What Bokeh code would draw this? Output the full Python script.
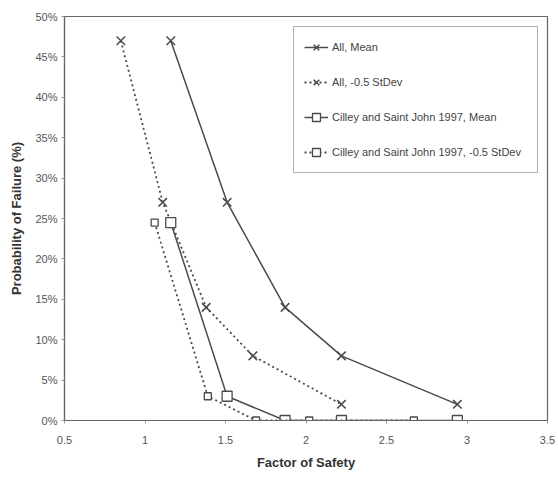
from bokeh.plotting import figure
from bokeh.models import Range1d, Legend, LegendItem, FixedTicker, CustomJSTickFormatter
from bokeh.embed import file_html
from bokeh.resources import INLINE

# Data
fos_all_mean = [1.16, 1.51, 1.87, 2.22, 2.94]
pf_all_mean = [47, 27, 14, 8, 2]
fos_all_sd = [0.85, 1.11, 1.38, 1.67, 2.22]
pf_all_sd = [47, 27, 14, 8, 2]
fos_c_mean = [1.16, 1.51, 1.87, 2.22, 2.94]
pf_c_mean = [24.5, 3, 0, 0, 0]
fos_c_sd = [1.06, 1.39, 1.69, 2.02, 2.67]
pf_c_sd = [24.5, 3, 0, 0, 0]
x_ticks = [0.5, 1, 1.5, 2, 2.5, 3, 3.5]
y_ticks = [0, 5, 10, 15, 20, 25, 30, 35, 40, 45, 50]
labels = ["All, Mean", "All, -0.5 StDev",
          "Cilley and Saint John 1997, Mean",
          "Cilley and Saint John 1997, -0.5 StDev"]

ink = "#4a4a4a"
p = figure(width=558, height=477, output_backend="svg", toolbar_location=None,
           x_range=Range1d(0.5, 3.5), y_range=Range1d(0, 50),
           min_border_left=64, min_border_right=11, min_border_top=16, min_border_bottom=57)
p.background_fill_color = "white"
p.border_fill_color = "white"
p.outline_line_color = "#666666"
p.outline_line_width = 1.2
p.xgrid.visible = False
p.ygrid.visible = False

r1l = p.line(fos_all_mean, pf_all_mean, line_color=ink, line_width=1.5)
r1m = p.scatter(fos_all_mean, pf_all_mean, marker="x", size=12, line_color=ink, line_width=1.5)
r2l = p.line(fos_all_sd, pf_all_sd, line_color=ink, line_width=1.8, line_dash="2 3")
r2m = p.scatter(fos_all_sd, pf_all_sd, marker="x", size=12, line_color=ink, line_width=1.5)
r3l = p.line(fos_c_mean, pf_c_mean, line_color=ink, line_width=1.5)
r3m = p.scatter(fos_c_mean, pf_c_mean, marker="square", size=10, line_color=ink,
                fill_color="white", line_width=1.3)
r4l = p.line(fos_c_sd, pf_c_sd, line_color=ink, line_width=1.8, line_dash="2 3")
r4m = p.scatter(fos_c_sd, pf_c_sd, marker="square", size=7, line_color=ink,
                fill_color="white", line_width=1.3)

p.xaxis.ticker = FixedTicker(ticks=x_ticks)
p.yaxis.ticker = FixedTicker(ticks=y_ticks)
p.yaxis.formatter = CustomJSTickFormatter(code="return tick + '%';")
p.xaxis.formatter = CustomJSTickFormatter(code="return String(tick);")
for ax in (p.xaxis[0], p.yaxis[0]):
    ax.axis_line_color = "#666666"
    ax.axis_line_width = 1.2
    ax.major_tick_in = 0
    ax.major_tick_out = 3
    ax.major_tick_line_color = "#999999"
    ax.minor_tick_line_color = None
    ax.major_label_text_font = "Liberation Sans"
    ax.major_label_text_font_size = "11px"
    ax.major_label_text_color = "#555555"
    ax.axis_label_text_font = "Liberation Sans"
    ax.axis_label_text_font_size = "13px"
    ax.axis_label_text_font_style = "bold"
    ax.axis_label_text_color = "#333333"
p.xaxis.axis_label = "Factor of Safety"
p.yaxis.axis_label = "Probability of Failure (%)"
p.xaxis.major_label_standoff = 12
p.xaxis.axis_label_standoff = 8
p.yaxis.major_label_standoff = 4
p.yaxis.axis_label_standoff = 8

legend = Legend(items=[
    LegendItem(label=labels[0], renderers=[r1l, r1m]),
    LegendItem(label=labels[1], renderers=[r2l, r2m]),
    LegendItem(label=labels[2], renderers=[r3l, r3m]),
    LegendItem(label=labels[3], renderers=[r4l, r4m]),
], location=(229, 247))
legend.margin = 0
legend.padding = 10
legend.spacing = 15
legend.glyph_width = 24
legend.glyph_height = 20
legend.label_height = 20
legend.label_standoff = 4
legend.label_width = 195
legend.label_text_font = "Liberation Sans"
legend.label_text_font_size = "11px"
legend.label_text_color = "#444444"
legend.border_line_color = "#666666"
legend.border_line_width = 1.2
legend.background_fill_alpha = 1.0
p.add_layout(legend)

open("out.html", "w").write(file_html(p, INLINE))
